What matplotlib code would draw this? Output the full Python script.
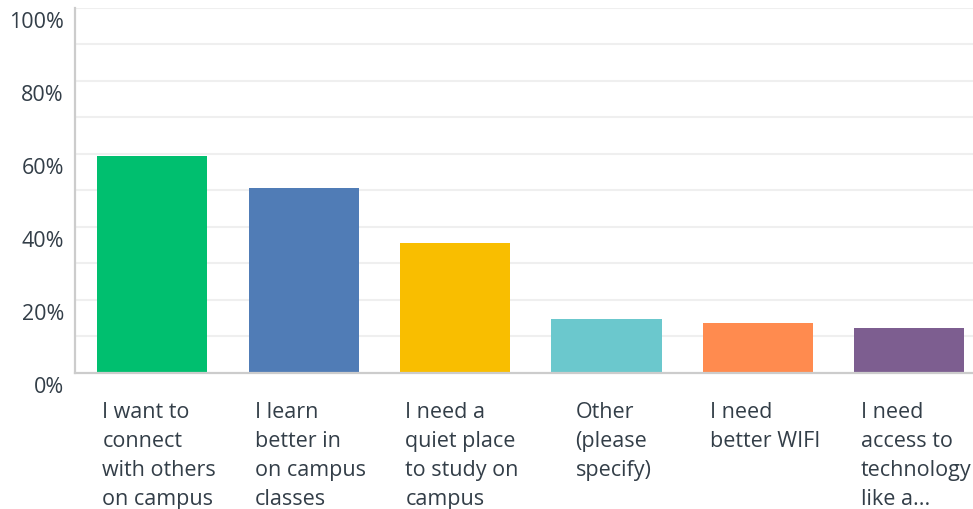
import matplotlib.pyplot as plt
from matplotlib.transforms import ScaledTranslation

plt.rcParams['font.family'] = ['Open Sans', 'DejaVu Sans']

# -----------------------------
# Data
# -----------------------------
categories = [
    "I want to\nconnect\nwith others\non campus",
    "I learn\nbetter in\non campus\nclasses",
    "I need a\nquiet place\nto study on\ncampus",
    "Other\n(please\nspecify)",
    "I need\nbetter WIFI",
    "I need\naccess to\ntechnology\nlike a...",
]
percentages = [59.5, 50.7, 35.6, 14.8, 13.7, 12.3]
colors = ["#00bf6f", "#507cb6", "#f9be00", "#6bc8cd", "#ff8b4f", "#7d5e90"]
y_ticks = [0, 20, 40, 60, 80, 100]
y_tick_labels = ["0%", "20%", "40%", "60%", "80%", "100%"]

text_color = "#333e48"

# -----------------------------
# Figure
# -----------------------------
fig = plt.figure(figsize=(9.73, 5.10), dpi=100)
ax = fig.add_axes([0.0771, 0.2667, 0.9229, 0.7157])

x = range(len(categories))
bar_width = 0.727
ax.bar(x, percentages, width=bar_width, color=colors, zorder=3)

ax.set_xlim(-0.51, 5.42)
ax.set_ylim(0, 100)

# gridlines every 10%
for g in range(10, 101, 10):
    ax.axhline(g, color="#efefef", linewidth=1.5, zorder=1)

ax.set_yticks(y_ticks)
ax.set_yticklabels(y_tick_labels, fontsize=15.5, color=text_color)
ax.tick_params(axis="y", length=0, pad=8)

# nudge y labels down a bit, like the original
down = ScaledTranslation(0, -11 / 100, fig.dpi_scale_trans)
for lab in ax.get_yticklabels():
    lab.set_transform(lab.get_transform() + down)

ax.set_xticks(list(x))
ax.set_xticklabels(categories, fontsize=15.5, color=text_color,
                   ha="center", multialignment="left", linespacing=1.5)
ax.tick_params(axis="x", length=0, pad=20.5)

shift = ScaledTranslation(7 / 100, 0, fig.dpi_scale_trans)
for lab in ax.get_xticklabels():
    lab.set_transform(lab.get_transform() + shift)

for side in ["top", "right"]:
    ax.spines[side].set_visible(False)
for side in ["left", "bottom"]:
    ax.spines[side].set_color("#cccccc")
    ax.spines[side].set_linewidth(1.6)
    ax.spines[side].set_zorder(4)

fig.savefig("out.png", dpi=100)
